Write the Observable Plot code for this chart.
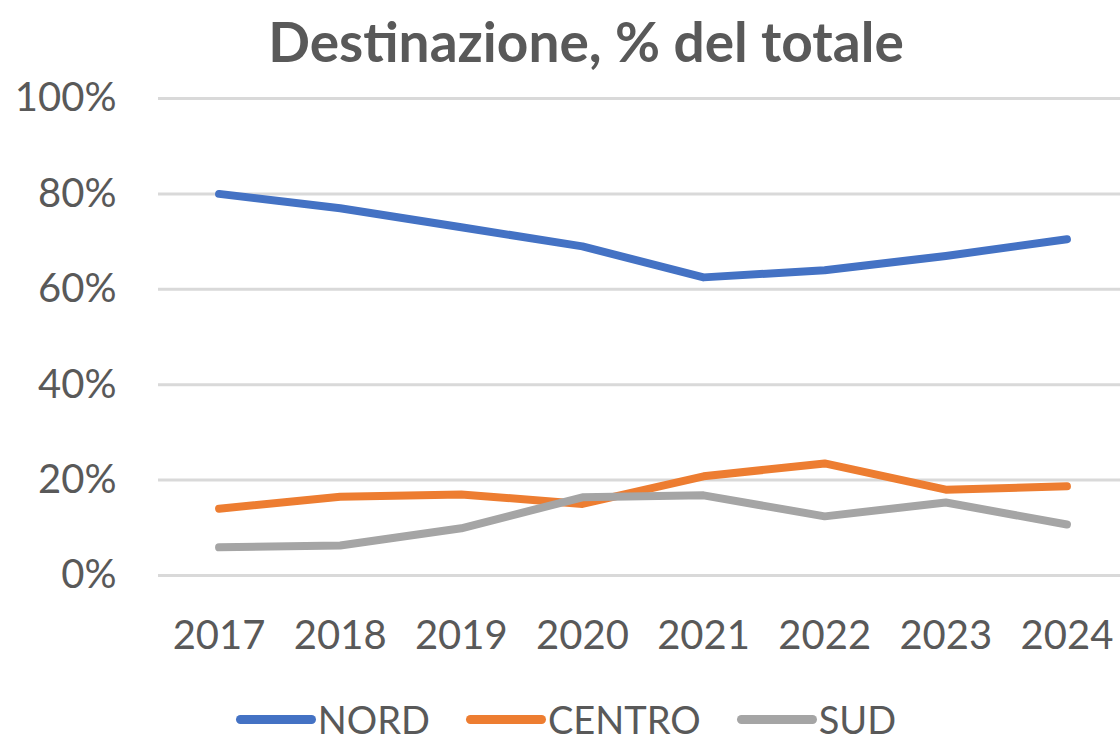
<!DOCTYPE html>
<html><head><meta charset="utf-8">
<script src="https://cdn.jsdelivr.net/npm/d3@7"></script>
<script src="https://cdn.jsdelivr.net/npm/@observablehq/plot@0.6"></script>
<style>
body{margin:0;background:#fff;font-family:Lato,"Open Sans",sans-serif;color:#595959;width:1120px;height:744px;overflow:hidden}
#title{height:80px;line-height:82px;text-align:center;font-size:55px;font-weight:bold;color:#595959;padding-left:52px;white-space:nowrap}
#legend{height:50px;display:flex;justify-content:center;align-items:center;gap:36px;font-size:38px;padding-top:14px;padding-left:12px;line-height:1}
.item{display:flex;align-items:center}
.sw{width:80px;height:9px;border-radius:5px;margin-right:2px}
</style></head>
<body>
<div id="title">Destinazione, % del totale</div>
<div id="chart"></div>
<div id="legend"></div>
<script>
const years = [2017, 2018, 2019, 2020, 2021, 2022, 2023, 2024];
const nord = [80, 77, 73, 69, 62.5, 64, 67, 70.5];
const centro = [14, 16.5, 17, 15, 20.8, 23.5, 18, 18.7];
const sud = [5.9, 6.3, 9.9, 16.4, 16.8, 12.4, 15.3, 10.7];
const seriesNames = ["NORD", "CENTRO", "SUD"];
const seriesColors = ["#4472C4", "#ED7D31", "#A5A5A5"];
const yTicks = [0, 20, 40, 60, 80, 100];

const values = [nord, centro, sud];
const data = seriesNames.flatMap((s, i) => years.map((y, j) => ({series: s, year: y, value: values[i][j]})));

const chart = Plot.plot({
  width: 1120,
  height: 600,
  marginTop: 18,
  marginBottom: 105,
  marginLeft: 158,
  marginRight: -7,
  style: {fontFamily: "Lato, 'Open Sans', sans-serif", fontSize: "40px", color: "#595959", background: "#fff", overflow: "visible"},
  x: {domain: [2016.5, 2024.5]},
  y: {domain: [0, 100]},
  color: {domain: seriesNames, range: seriesColors},
  marks: [
    Plot.ruleY(yTicks, {stroke: "#D9D9D9", strokeWidth: 3}),
    Plot.axisY({ticks: yTicks, label: null, tickSize: 0, tickPadding: 42, tickFormat: d => d + "%", fill: "#595959", fontSize: 40}),
    Plot.axisX({ticks: years, label: null, tickSize: 0, tickPadding: 45, tickFormat: d => String(d), fill: "#595959", fontSize: 40}),
    Plot.line(data, {x: "year", y: "value", z: "series", stroke: "series", strokeWidth: 8, strokeLinejoin: "round", strokeLinecap: "round"})
  ]
});
document.getElementById("chart").appendChild(chart);

const legend = document.getElementById("legend");
seriesNames.forEach((s, i) => {
  const it = document.createElement("div");
  it.className = "item";
  it.innerHTML = `<span class="sw" style="background:${seriesColors[i]}"></span><span>${s}</span>`;
  legend.appendChild(it);
});
</script>
</body></html>
